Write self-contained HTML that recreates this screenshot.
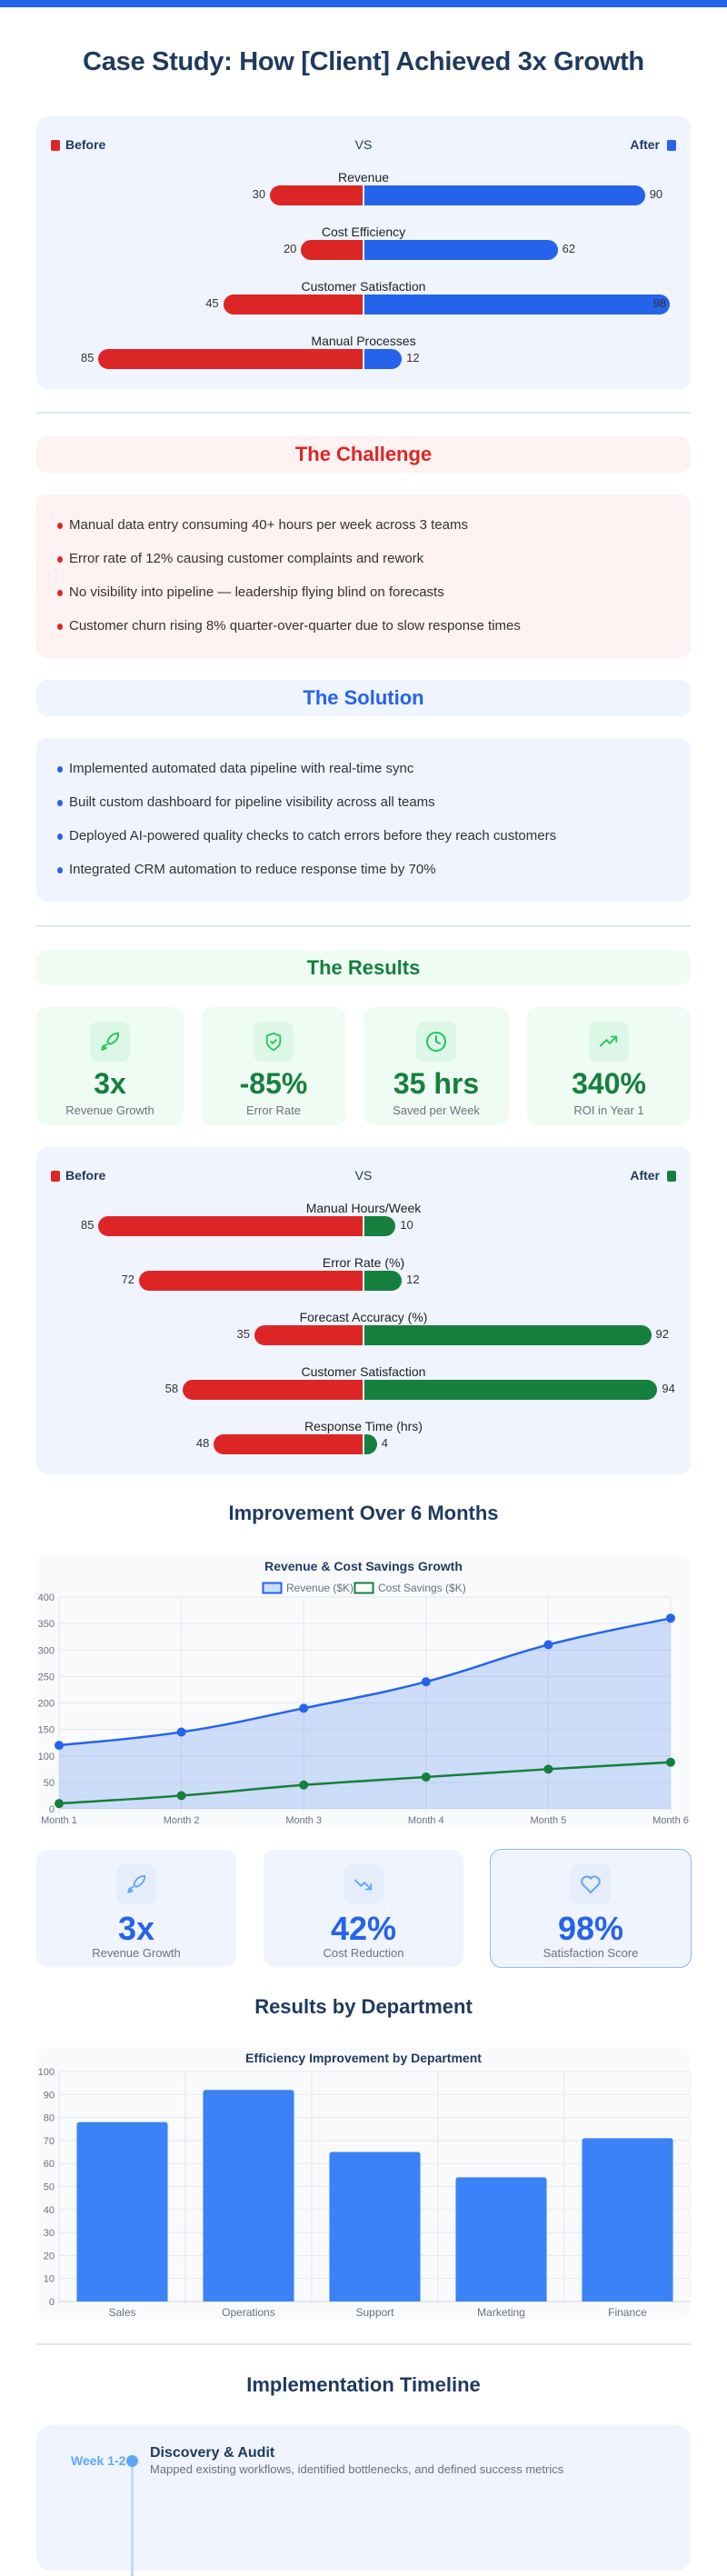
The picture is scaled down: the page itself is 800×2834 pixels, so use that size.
<!DOCTYPE html>
<html><head><meta charset="utf-8">
<style>
*{box-sizing:border-box;margin:0;padding:0}
body{width:800px;height:2800px;background:#fff;font-family:"Liberation Sans",sans-serif;position:relative;overflow:hidden;color:#1f2937}
.abs{position:absolute}
.topbar{left:0;top:0;width:800px;height:8px;background:#2563eb}
h1{position:absolute;left:0;width:800px;top:52px;text-align:center;font-size:29px;font-weight:700;color:#1e3a5f;letter-spacing:-0.3px}
.panel{position:absolute;left:40px;width:720px;border-radius:12px}
.blue{background:#eff4ff}.red{background:#fef2f2}.green{background:#effcf3}.gray{background:#f8fafc}
.divider{position:absolute;left:40px;width:720px;height:2px;background:#dbe7fb}
.sechead{display:flex;align-items:center;justify-content:center;font-size:22px;font-weight:700}
.item{position:absolute;left:36px;font-size:15px;color:#333;line-height:18px}
.item::before{content:"";position:absolute;left:-13px;top:6px;width:6px;height:7px;border-radius:50%}
.ri .item::before{background:#dc2626}.bi .item::before{background:#2563eb}
.stitle{position:absolute;left:0;width:800px;text-align:center;font-size:22px;font-weight:700;color:#1e3a5f}
.kpi{position:absolute;border-radius:12px;text-align:center}
.ico{position:absolute;left:50%;margin-left:-22px;top:16px;width:44px;height:44px;border-radius:9px;display:flex;align-items:center;justify-content:center}
.kv{position:absolute;left:0;right:0;font-weight:700}
.kl{position:absolute;left:0;right:0;font-size:13px;color:#6b7280}
.leg{position:absolute;font-size:14px;font-weight:700;color:#1e3a5f}
</style></head><body>
<div class="abs topbar"></div>
<h1>Case Study: How [Client] Achieved 3x Growth</h1>

<div class="panel blue" style="top:128px;height:300px" id="cmp1"></div>
<div class="divider" style="top:453px"></div>

<div class="panel red sechead" style="top:480px;height:40px;color:#dc2626">The Challenge</div>
<div class="panel red ri" style="top:544px;height:180px">
<div class="item" style="top:25px">Manual data entry consuming 40+ hours per week across 3 teams</div>
<div class="item" style="top:62px">Error rate of 12% causing customer complaints and rework</div>
<div class="item" style="top:99px">No visibility into pipeline — leadership flying blind on forecasts</div>
<div class="item" style="top:136px">Customer churn rising 8% quarter-over-quarter due to slow response times</div>
</div>

<div class="panel blue sechead" style="top:748px;height:40px;color:#2563eb">The Solution</div>
<div class="panel blue bi" style="top:812px;height:180px">
<div class="item" style="top:25px">Implemented automated data pipeline with real-time sync</div>
<div class="item" style="top:62px">Built custom dashboard for pipeline visibility across all teams</div>
<div class="item" style="top:99px">Deployed AI-powered quality checks to catch errors before they reach customers</div>
<div class="item" style="top:136px">Integrated CRM automation to reduce response time by 70%</div>
</div>
<div class="divider" style="top:1018px"></div>

<div class="panel green sechead" style="top:1045px;height:39px;color:#15803d">The Results</div>

<div class="kpi green" style="left:40px;top:1108px;width:162px;height:130px">
<div class="ico" style="background:#dcf7e6"><svg width="22" height="22" viewBox="0 0 24 24" fill="none" stroke="#22c55e" stroke-width="2" stroke-linecap="round"><path d="M5 19c1-3 2-4 4-4M4.5 16.5c-1.5 1-2 5-2 5s4-.5 5-2M12 15l-3-3a22 22 0 0 1 2-4A13 13 0 0 1 22 2c0 3-1 8-6 11a22 22 0 0 1-4 2z"/></svg></div>
<div class="kv" style="top:66px;font-size:32px;color:#15803d">3x</div><div class="kl" style="top:106px">Revenue Growth</div></div>
<div class="kpi green" style="left:221px;top:1108px;width:160px;height:130px">
<div class="ico" style="background:#dcf7e6"><svg width="22" height="22" viewBox="0 0 24 24" fill="none" stroke="#22c55e" stroke-width="2" stroke-linecap="round"><path d="M12 22s8-4 8-10V5l-8-3-8 3v7c0 6 8 10 8 10z"/><path d="M9 12l2 2 4-4"/></svg></div>
<div class="kv" style="top:66px;font-size:32px;color:#15803d">-85%</div><div class="kl" style="top:106px">Error Rate</div></div>
<div class="kpi green" style="left:400px;top:1108px;width:160px;height:130px">
<div class="ico" style="background:#dcf7e6"><svg width="24" height="24" viewBox="0 0 24 24" fill="none" stroke="#22c55e" stroke-width="2" stroke-linecap="round"><circle cx="12" cy="12" r="10"/><path d="M12 6v6l4 2"/></svg></div>
<div class="kv" style="top:66px;font-size:32px;color:#15803d">35 hrs</div><div class="kl" style="top:106px">Saved per Week</div></div>
<div class="kpi green" style="left:580px;top:1108px;width:180px;height:130px">
<div class="ico" style="background:#dcf7e6"><svg width="22" height="22" viewBox="0 0 24 24" fill="none" stroke="#22c55e" stroke-width="2" stroke-linecap="round"><path d="M2 17l7-7 4 4 8-8M15 6h6v6"/></svg></div>
<div class="kv" style="top:66px;font-size:32px;color:#15803d">340%</div><div class="kl" style="top:106px">ROI in Year 1</div></div>

<div class="panel blue" style="top:1262px;height:360px" id="cmp2"></div>

<div class="stitle" style="top:1652px">Improvement Over 6 Months</div>
<div class="panel gray" style="top:1710px;height:300px">
<svg id="line" width="720" height="300" style="position:absolute;left:0;top:0;overflow:visible"></svg></div>

<div class="kpi blue" style="left:40px;top:2035px;width:220px;height:129px">
<div class="ico" style="background:#e6eefc"><svg width="22" height="22" viewBox="0 0 24 24" fill="none" stroke="#60a5fa" stroke-width="2" stroke-linecap="round"><path d="M5 19c1-3 2-4 4-4M4.5 16.5c-1.5 1-2 5-2 5s4-.5 5-2M12 15l-3-3a22 22 0 0 1 2-4A13 13 0 0 1 22 2c0 3-1 8-6 11a22 22 0 0 1-4 2z"/></svg></div>
<div class="kv" style="top:66px;font-size:36px;color:#2563eb">3x</div><div class="kl" style="top:106px">Revenue Growth</div></div>
<div class="kpi blue" style="left:290px;top:2035px;width:220px;height:129px">
<div class="ico" style="background:#e6eefc"><svg width="22" height="22" viewBox="0 0 24 24" fill="none" stroke="#60a5fa" stroke-width="2" stroke-linecap="round"><path d="M2 7l7 7 4-4 8 8M21 12v6h-6"/></svg></div>
<div class="kv" style="top:66px;font-size:36px;color:#2563eb">42%</div><div class="kl" style="top:106px">Cost Reduction</div></div>
<div class="kpi blue" style="left:540px;top:2035px;width:220px;height:129px;outline:1px solid #93b4f5">
<div class="ico" style="background:#e6eefc"><svg width="24" height="24" viewBox="0 0 24 24" fill="none" stroke="#60a5fa" stroke-width="2"><path d="M12 21l-8.5-8.5a5 5 0 0 1 8.5-7 5 5 0 0 1 8.5 7z"/></svg></div>
<div class="kv" style="top:66px;font-size:36px;color:#2563eb">98%</div><div class="kl" style="top:106px">Satisfaction Score</div></div>

<div class="stitle" style="top:2195px">Results by Department</div>
<div class="panel gray" style="top:2252px;height:300px">
<svg id="bars" width="720" height="300" style="position:absolute;left:0;top:0"></svg></div>
<div class="divider" style="top:2578px"></div>

<div class="stitle" style="top:2611px">Implementation Timeline</div>
<div class="panel blue" style="top:2668px;height:160px;border-radius:16px">
<div class="abs" style="left:38px;top:31px;font-size:14px;font-weight:700;color:#60a5fa">Week 1-2</div>
<div class="abs" style="left:99px;top:33px;width:13px;height:13px;border-radius:50%;background:#60a5fa"></div>
<div class="abs" style="left:104px;top:46px;width:3px;height:120px;background:#bfdbfe"></div>
<div class="abs" style="left:125px;top:22px;font-size:16px;font-weight:700;color:#1e3a5f">Discovery &amp; Audit</div>
<div class="abs" style="left:125px;top:41px;font-size:13px;color:#6b7280">Mapped existing workflows, identified bottlenecks, and defined success metrics</div>
</div>

<script>
// Comparison 1
const cmp1Labels = ["Revenue","Cost Efficiency","Customer Satisfaction","Manual Processes"];
const cmp1Before = [30,20,45,85];
const cmp1After = [90,62,98,12];
// Comparison 2
const cmp2Labels = ["Manual Hours/Week","Error Rate (%)","Forecast Accuracy (%)","Customer Satisfaction","Response Time (hrs)"];
const cmp2Before = [85,72,35,58,48];
const cmp2After = [10,12,92,94,4];
// Line chart
const months = ["Month 1","Month 2","Month 3","Month 4","Month 5","Month 6"];
const revenue = [120,145,190,240,310,360];
const costSavings = [10,25,45,60,75,88];
const lineTicks = [0,50,100,150,200,250,300,350,400];
// Bar chart
const depts = ["Sales","Operations","Support","Marketing","Finance"];
const deptValues = [78,92,65,54,71];
const barTicks = [0,10,20,30,40,50,60,70,80,90,100];

function mk(tag, attrs, parent, text){
  const e = document.createElementNS("http://www.w3.org/2000/svg", tag);
  for (const k in attrs) e.setAttribute(k, attrs[k]);
  if (text !== undefined) e.textContent = text;
  parent.appendChild(e); return e;
}
function div(parent, css, text){
  const d = document.createElement("div");
  d.style.cssText = "position:absolute;" + css;
  if (text !== undefined) d.textContent = text;
  parent.appendChild(d); return d;
}
function comparison(id, labels, before, after, afterColor){
  const p = document.getElementById(id);
  const sx = v => v * 3.43; const cx = 360;
  let e;
  e = div(p, "left:16px;top:26px;width:10px;height:12px;border-radius:2px;background:#dc2626");
  
  
  e = div(p, "left:32px;top:23px;font-size:14px;font-weight:700;color:#1e3a5f", "Before");
  
  
  e = div(p, "left:340px;width:40px;text-align:center;top:23px;font-size:14px;color:#1e3a5f", "VS");
  
  
  e = div(p, "right:34px;top:23px;font-size:14px;font-weight:700;color:#1e3a5f", "After");
  
  
  e = div(p, "right:16px;top:26px;width:10px;height:12px;border-radius:2px;background:" + afterColor);
  
  
  labels.forEach((l, i) => {
    const y = 61 + i * 60;
    let t = div(p, "left:0;width:720px;text-align:center;top:" + (y - 2) + "px;font-size:14px;color:#222", l);
    
    
    const bw = sx(before[i]), aw = sx(after[i]);
    let b = div(p, "left:" + (cx - bw) + "px;top:" + (y + 15) + "px;width:" + (bw - 1) + "px;height:22px;background:#dc2626;border-radius:11px 0 0 11px");
    
    
    let a = div(p, "left:" + (cx + 1) + "px;top:" + (y + 15) + "px;width:" + aw + "px;height:22px;background:" + afterColor + ";border-radius:0 11px 11px 0");
    
    
    let bl = div(p, "right:" + (720 - (cx - bw) + 5) + "px;top:" + (y + 17) + "px;font-size:13px;color:#333", before[i]);
    
    
    let endx = cx + 1 + aw;
    let css = endx + 30 > 715 ? "right:" + (720 - endx + 4) + "px;" : "left:" + (endx + 5) + "px;";
    let al = div(p, css + "top:" + (y + 17) + "px;font-size:13px;color:#333", after[i]);
    
    
  });
}
comparison("cmp1", cmp1Labels, cmp1Before, cmp1After, "#2563eb");
comparison("cmp2", cmp2Labels, cmp2Before, cmp2After, "#15803d");

// Line chart (card-relative coords)
(function(){
  const s = document.getElementById("line");
  const x0 = 25, x1 = 698, y0 = 280, y1 = 47;
  const X = i => x0 + (x1 - x0) * i / (months.length - 1);
  const Y = v => y0 - (y0 - y1) * v / 400;
  let t = mk("text", {x:360, y:18, "text-anchor":"middle", "font-size":14, "font-weight":"bold", fill:"#1e3a5f"}, s, "Revenue & Cost Savings Growth");
  
  
  let r = mk("rect", {x:249.5, y:31.5, width:20, height:11, fill:"#cddcf7", stroke:"#2563eb", "stroke-width":2}, s);
  
  
  t = mk("text", {x:275, y:41, "font-size":12, fill:"#6b7280"}, s, "Revenue ($K)");
  
  
  r = mk("rect", {x:350.5, y:31.5, width:20, height:11, fill:"#fff", stroke:"#15803d", "stroke-width":2}, s);
  
  
  t = mk("text", {x:376, y:41, "font-size":12, fill:"#6b7280"}, s, "Cost Savings ($K)");
  
  
  lineTicks.forEach(v => {
    let g = mk("line", {x1:x0, x2:x1, y1:Y(v), y2:Y(v), stroke:"#e5e7eb", "stroke-width":1}, s);
    
    
    let l = mk("text", {x:20, y:Y(v) + 4, "text-anchor":"end", "font-size":11, fill:"#6b7280"}, s, v);
    
    
  });
  months.forEach((m, i) => {
    let g = mk("line", {x1:X(i), x2:X(i), y1:y1, y2:y0 + 5, stroke:"#e5e7eb", "stroke-width":1}, s);
    
    
    let l = mk("text", {x:X(i), y:y0 + 16, "text-anchor":"middle", "font-size":11, fill:"#6b7280"}, s, m);
    
    
  });
  function smooth(vals){
    const pts = vals.map((v, i) => [X(i), Y(v)]);
    let d = "M" + pts[0][0] + "," + pts[0][1];
    for (let i = 0; i < pts.length - 1; i++) {
      const p0 = pts[Math.max(i - 1, 0)], p1 = pts[i], p2 = pts[i + 1], p3 = pts[Math.min(i + 2, pts.length - 1)];
      const k = 0.2;
      d += " C" + (p1[0] + (p2[0] - p0[0]) * k) + "," + (p1[1] + (p2[1] - p0[1]) * k) + " " + (p2[0] - (p3[0] - p1[0]) * k) + "," + (p2[1] - (p3[1] - p1[1]) * k) + " " + p2[0] + "," + p2[1];
    }
    return d;
  }
  const rd = smooth(revenue);
  let a = mk("path", {d: rd + " L" + X(months.length - 1) + "," + y0 + " L" + x0 + "," + y0 + " Z", fill:"rgba(37,99,235,0.2)"}, s);
  
  
  let l1 = mk("path", {d: rd, fill:"none", stroke:"#2563eb", "stroke-width":2.5}, s);
  
  
  let l2 = mk("path", {d: smooth(costSavings), fill:"none", stroke:"#15803d", "stroke-width":2.5}, s);
  
  
  revenue.forEach((v, i) => {
    let c = mk("circle", {cx:X(i), cy:Y(v), r:5, fill:"#2563eb"}, s);
    
    
  });
  costSavings.forEach((v, i) => {
    let c = mk("circle", {cx:X(i), cy:Y(v), r:5, fill:"#15803d"}, s);
    
    
  });
})();

// Bar chart
(function(){
  const s = document.getElementById("bars");
  const x0 = 25, x1 = 720, y0 = 280, y1 = 27;
  const band = (x1 - x0) / depts.length;
  const Y = v => y0 - (y0 - y1) * v / 100;
  let t = mk("text", {x:360, y:17, "text-anchor":"middle", "font-size":14, "font-weight":"bold", fill:"#1e3a5f"}, s, "Efficiency Improvement by Department");
  
  
  barTicks.forEach(v => {
    let g = mk("line", {x1:x0, x2:x1, y1:Y(v), y2:Y(v), stroke: v === 0 ? "#d1d5db" : "#e5e7eb", "stroke-width":1}, s);
    
    
    let l = mk("text", {x:20, y:Y(v) + 4, "text-anchor":"end", "font-size":11, fill:"#6b7280"}, s, v);
    
    
  });
  for (let i = 0; i <= depts.length; i++) {
    let g = mk("line", {x1:x0 + band * i, x2:x0 + band * i, y1:y1, y2:y0 + 4, stroke:"#e5e7eb", "stroke-width":1}, s);
    
    
  }
  depts.forEach((d, i) => {
    const bw = band * 0.72, bx = x0 + band * i + (band - bw) / 2;
    let r = mk("path", {d:"M" + bx + "," + y0 + " V" + (Y(deptValues[i]) + 3) + " Q" + bx + "," + Y(deptValues[i]) + " " + (bx + 3) + "," + Y(deptValues[i]) + " H" + (bx + bw - 3) + " Q" + (bx + bw) + "," + Y(deptValues[i]) + " " + (bx + bw) + "," + (Y(deptValues[i]) + 3) + " V" + y0 + " Z", fill:"#3b82f6"}, s);
    
    
    let l = mk("text", {x:x0 + band * i + band / 2, y:y0 + 16, "text-anchor":"middle", "font-size":12, fill:"#6b7280"}, s, d);
    
    
  });
})();
</script>
</body></html>
